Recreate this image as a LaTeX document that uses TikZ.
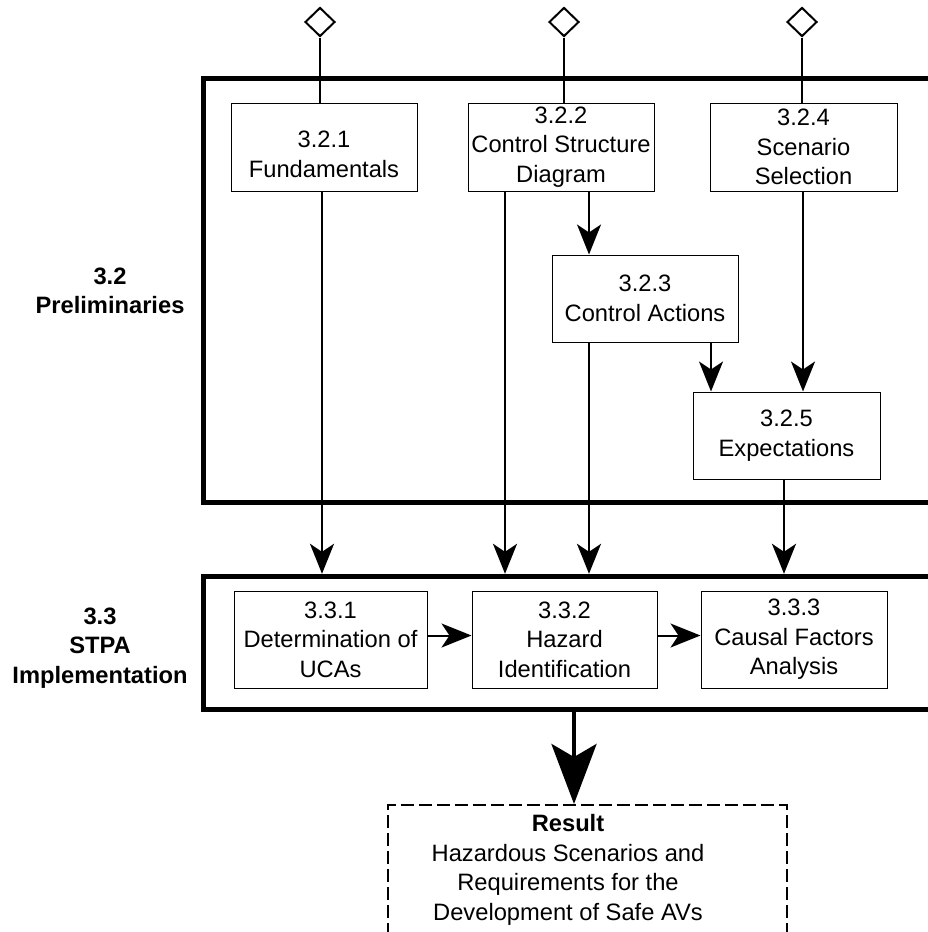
\documentclass[tikz,border=0pt]{standalone}
\usepackage{fontspec}
\setmainfont{Liberation Sans}
\usetikzlibrary{arrows.meta,shapes.geometric}
\begin{document}
\begin{tikzpicture}[x=1pt,y=-1pt,
  txt/.style={font=\fontsize{23.7}{29.5}\selectfont},
  box/.style={txt,draw=black,line width=1pt,fill=white,minimum width=186pt,minimum height=88pt,inner sep=0pt,align=center},
  frame/.style={draw=black,line width=5pt,inner sep=0pt},
  flow/.style={line width=2pt,-{Stealth[length=30pt,width=24pt,inset=8pt]}},
  wire/.style={line width=2pt},
  bigflow/.style={line width=4.5pt,-{Stealth[length=60pt,width=45pt,inset=13pt]}},
  port/.style={diamond,draw=black,line width=2pt,fill=white,minimum width=30pt,minimum height=29pt,inner sep=0pt},
  sect/.style={font=\bfseries\fontsize{23.7}{29.5}\selectfont,align=center,inner sep=0pt},
  resbox/.style={draw=black,line width=1.6pt,dash pattern=on 13pt off 5pt,inner sep=0pt},
]
\useasboundingbox (0,0) rectangle (928,932);
\clip (0,0) rectangle (928,932);

% frames
\node[frame,anchor=north west,minimum width=760pt,minimum height=423.75pt] (prel) at (200.5,75.75) {};
\node[frame,anchor=north west,minimum width=760pt,minimum height=133.2pt] (stpa) at (200.5,573.8) {};

% section labels
\node[sect,anchor=north] (l32) at (110,267.5) {3.2\\Preliminaries};
\node[sect,anchor=north] (l33) at (100,607.5) {3.3\\STPA\\Implementation};

% columns
\coordinate (cA) at (322,0);
\coordinate (cB) at (505,0);
\coordinate (cC) at (589,0);
\coordinate (cD) at (711,0);
\coordinate (cE) at (803,0);
\coordinate (cF) at (784,0);
\coordinate (ay) at (0,635.5);
\coordinate (bigx) at (574,0);

% boxes
\node[box] (b321) at (324,147) {\rule{0pt}{31pt}3.2.1\\Fundamentals};
\node[box] (b322) at (561,147) {3.2.2\\Control Structure\\Diagram};
\node[box,minimum width=187pt] (b324) at (803.5,147) {3.2.4\\Scenario\\Selection};
\node[box,minimum height=87pt] (b323) at (645,298.5) {3.2.3\\Control Actions};
\node[box,minimum width=187pt,minimum height=87pt] (b325) at (786.5,435.5) {3.2.5\\Expectations};
\node[box,minimum width=193pt,minimum height=97pt] (b331) at (330.5,639.5) {3.3.1\\Determination of\\UCAs};
\node[box,minimum width=185pt,minimum height=97pt] (b332) at (564.5,639.5) {3.3.2\\Hazard\\Identification};
\node[box,minimum width=186pt,minimum height=97pt] (b333) at (794,639.5) {3.3.3\\Causal Factors\\Analysis};

% ports
\node[port] (p1) at (320,22) {};
\node[port] (p2) at (564,22) {};
\node[port] (p3) at (802,22) {};
\draw[wire] (p1.south) -- (p1.south |- b321.north);
\draw[wire] (p2.south) -- (p2.south |- b322.north);
\draw[wire] (p3.south) -- (p3.south |- b324.north);

% flows
\draw[flow] (b321.south -| cA) -- (stpa.north -| cA);
\draw[flow] (b322.south -| cB) -- (stpa.north -| cB);
\draw[flow] (b322.south -| cC) -- (b323.north -| cC);
\draw[flow] (b323.south -| cC) -- (stpa.north -| cC);
\draw[flow] (b323.south -| cD) -- (b325.north -| cD);
\draw[flow] (b324.south -| cE) -- (b325.north -| cE);
\draw[flow] (b325.south -| cF) -- (stpa.north -| cF);
\draw[flow] (b331.east |- ay) -- (b332.west |- ay);
\draw[flow] (b332.east |- ay) -- (b333.west |- ay);

% result
\node[resbox,anchor=north west,minimum width=399pt,minimum height=200pt] (res) at (387,804) {};
\node[txt,align=center,anchor=north,inner sep=0pt] (rest) at (568,814.5) {\textbf{Result}\\Hazardous Scenarios and\\Requirements for the\\Development of Safe AVs};
\draw[bigflow] (stpa.south -| bigx) -- (res.north -| bigx);
\end{tikzpicture}
\end{document}
